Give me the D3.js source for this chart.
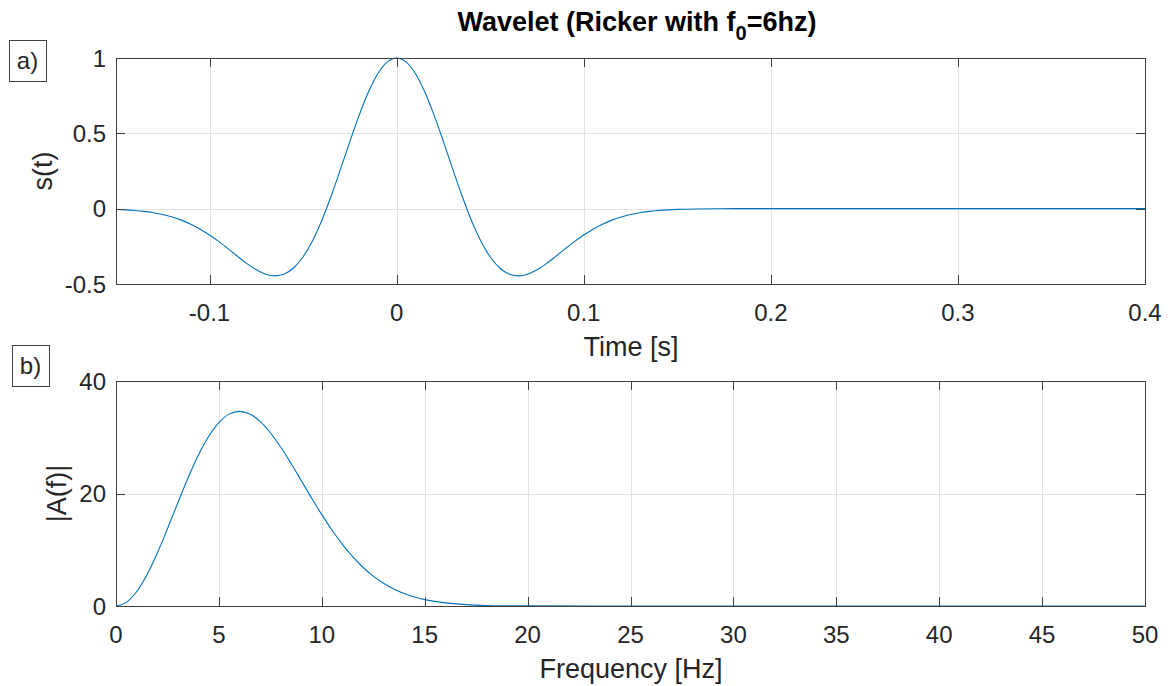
<!DOCTYPE html>
<html>
<head>
<meta charset="utf-8">
<script src="https://cdn.jsdelivr.net/npm/d3@7"></script>
<style>
  body { margin: 0; background: #fff; }
  text { font-family: "Liberation Sans", Arial, sans-serif; fill: #262626; }
</style>
</head>
<body>
<div id="chart"></div>
<script>
// wavelet s(t)
var timeS = [-0.15,-0.145,-0.14,-0.135,-0.13,-0.125,-0.12,-0.115,-0.11,-0.105,-0.1,
  -0.095,-0.09,-0.085,-0.08,-0.075,-0.07,-0.065,-0.06,-0.055,-0.05,-0.045,-0.04,-0.035,
  -0.03,-0.025,-0.02,-0.015,-0.01,-0.005,0,0.005,0.01,0.015,0.02,0.025,0.03,0.035,0.04,
  0.045,0.05,0.055,0.06,0.065,0.07,0.075,0.08,0.085,0.09,0.095,0.1,0.105,0.11,0.115,
  0.12,0.125,0.13,0.135,0.14,0.145,0.15,0.16,0.17,0.18,0.2,0.25,0.3,0.35,0.4]
var sVals = [-0.005,-0.008,-0.012,-0.018,-0.027,-0.039,-0.055,-0.076,-0.103,-0.136,-0.175,
  -0.219,-0.267,-0.317,-0.365,-0.406,-0.435,-0.446,-0.434,-0.392,-0.319,-0.214,-0.078,0.084,
  0.262,0.445,0.621,0.776,0.897,0.974,1,0.974,0.897,0.776,0.621,0.445,0.262,0.084,-0.078,
  -0.214,-0.319,-0.392,-0.434,-0.446,-0.435,-0.406,-0.365,-0.317,-0.267,-0.219,-0.175,-0.136,-0.103,-0.076,
  -0.055,-0.039,-0.027,-0.018,-0.012,-0.008,-0.005,-0.002,-0.001,0,0,0,0,0,0]

// amplitude spectrum |A(f)|
var freqHz = [0,0.5,1,1.5,2,2.5,3,3.5,4,4.5,5,5.5,6,6.5,7,7.5,8,8.5,9,9.5,10,10.5,11,11.5,
  12,12.5,13,13.5,14,14.5,15,16,17,18,19,20,25,30,35,40,45,50]
var ampVals = [0,0.65,2.54,5.52,9.35,13.73,18.31,22.77,26.8,30.14,32.62,34.11,34.6,34.14,32.82,
  30.8,28.26,25.37,22.3,19.22,16.24,13.47,10.97,8.77,6.89,5.32,4.04,3.02,2.21,1.6,1.13,
  0.55,0.25,0.1,0.04,0.02,0,0,0,0,0,0]

var timeTicks = [-0.1,0,0.1,0.2,0.3,0.4]
var sTicks = [-0.5,0,0.5,1]
var freqTicks = [0,5,10,15,20,25,30,35,40,45,50]
var ampTicks = [0,20,40]

var W = 1171, H = 686
var svg = d3.select('#chart').append('svg').attr('width', W).attr('height', H)

var lineColor = '#0072BD'
var axisColor = '#404040'
var gridColor = '#e3e3e3'

function panel(opt){
  var x = d3.scaleLinear().domain(opt.xDomain).range([116, 1145])
  var y = d3.scaleLinear().domain(opt.yDomain).range([opt.bottom, opt.top])
  var g = svg.append('g')

  // grid
  g.selectAll('.gx').data(opt.xTicks.filter(function(d){ return d > opt.xDomain[0] && d < opt.xDomain[1] }))
    .enter().append('line')
    .attr('x1', function(d){ return Math.round(x(d)) + 0.5 }).attr('x2', function(d){ return Math.round(x(d)) + 0.5 })
    .attr('y1', opt.top).attr('y2', opt.bottom).attr('stroke', gridColor)
  g.selectAll('.gy').data(opt.yTicks.filter(function(d){ return d > opt.yDomain[0] && d < opt.yDomain[1] }))
    .enter().append('line')
    .attr('y1', function(d){ return Math.round(y(d)) + 0.5 }).attr('y2', function(d){ return Math.round(y(d)) + 0.5 })
    .attr('x1', 116).attr('x2', 1145).attr('stroke', gridColor)

  // curve
  var line = d3.line().x(function(d){ return x(d[0]) }).y(function(d){ return y(d[1]) }).curve(d3.curveCatmullRom)
  g.append('path').datum(d3.zip(opt.xs, opt.ys)).attr('d', line)
    .attr('fill', 'none').attr('stroke', lineColor).attr('stroke-width', 1.1)

  // ticks inside, all four sides
  var tl = 9
  opt.xTicks.forEach(function(d){
    var px = Math.round(x(d)) + 0.5
    g.append('line').attr('x1', px).attr('x2', px).attr('y1', opt.bottom).attr('y2', opt.bottom - tl).attr('stroke', axisColor)
    g.append('line').attr('x1', px).attr('x2', px).attr('y1', opt.top).attr('y2', opt.top + tl).attr('stroke', axisColor)
    g.append('text').attr('x', x(d)).attr('y', opt.bottom + 37).attr('text-anchor', 'middle')
      .style('font-size', '24px').text(String(d))
  })
  opt.yTicks.forEach(function(d){
    var py = Math.round(y(d)) + 0.5
    g.append('line').attr('x1', 116).attr('x2', 116 + tl).attr('y1', py).attr('y2', py).attr('stroke', axisColor)
    g.append('line').attr('x1', 1145).attr('x2', 1145 - tl).attr('y1', py).attr('y2', py).attr('stroke', axisColor)
    g.append('text').attr('x', 106).attr('y', y(d) + 8.5).attr('text-anchor', 'end')
      .style('font-size', '24px').text(String(d))
  })

  // box
  g.append('rect').attr('x', 116.5).attr('y', opt.top + 0.5).attr('width', 1145 - 116)
    .attr('height', opt.bottom - opt.top).attr('fill', 'none').attr('stroke', axisColor)

  // axis labels
  g.append('text').attr('x', 631).attr('y', opt.bottom + 72).attr('text-anchor', 'middle')
    .style('font-size', '27px').text(opt.xLabel)
  g.append('text').attr('transform', 'translate(' + opt.yLabelX + ',' + ((opt.top + opt.bottom) / 2) + ') rotate(-90)')
    .attr('text-anchor', 'middle').style('font-size', '27px').text(opt.yLabel)

  // panel tag
  var tag = g.append('g')
  tag.append('rect').attr('x', opt.tagX + 0.5).attr('y', opt.tagY + 0.5).attr('width', 37).attr('height', 41)
    .attr('fill', '#fff').attr('stroke', axisColor)
  tag.append('text').attr('x', opt.tagX + 18.5).attr('y', opt.tagY + 29).attr('text-anchor', 'middle')
    .style('font-size', '24px').text(opt.tag)
}

panel({ xDomain: [-0.15, 0.4], yDomain: [-0.5, 1], top: 58, bottom: 284,
  xs: timeS, ys: sVals, xTicks: timeTicks, yTicks: sTicks,
  xLabel: 'Time [s]', yLabel: 's(t)', yLabelX: 52, tag: 'a)', tagX: 9, tagY: 40 })

panel({ xDomain: [0, 50], yDomain: [0, 40], top: 381, bottom: 606,
  xs: freqHz, ys: ampVals, xTicks: freqTicks, yTicks: ampTicks,
  xLabel: 'Frequency [Hz]', yLabel: '|A(f)|', yLabelX: 66, tag: 'b)', tagX: 12, tagY: 345 })

// title
var title = svg.append('text').attr('x', 637).attr('y', 31).attr('text-anchor', 'middle')
  .style('font-size', '27px').style('font-weight', 'bold').style('fill', '#000')
title.append('tspan').text('Wavelet (Ricker with f')
title.append('tspan').attr('dy', 9).style('font-size', '20px').text('0')
title.append('tspan').attr('dy', -9).text('=6hz)')
</script>
</body>
</html>
